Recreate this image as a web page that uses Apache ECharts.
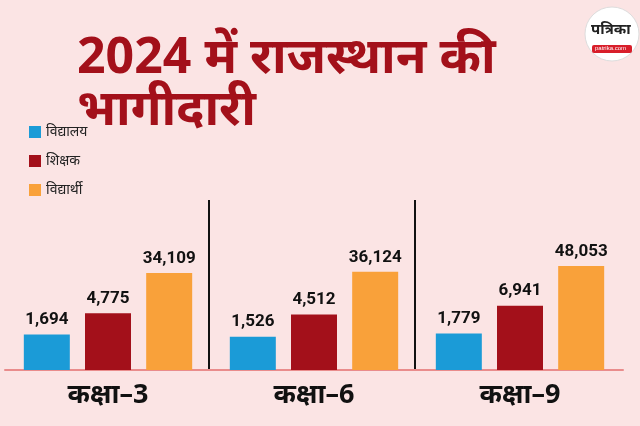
<!DOCTYPE html><html><head><meta charset="utf-8"><script src="https://cdn.jsdelivr.net/npm/echarts@6/dist/echarts.min.js"></script>
<style>body{margin:0}#c{width:640px;height:426px}</style></head><body><div id="c"></div><script>
const categories=['कक्षा–3','कक्षा–6','कक्षा–9'];
const schools=[1694,1526,1779];
const teachers=[4775,4512,6941];
const students=[34109,36124,48053];
const seriesNames=['विद्यालय','शिक्षक','विद्यार्थी'];
const colors=['#1b9bd7','#a3101a','#f9a13a'];
const ch=echarts.init(document.getElementById('c'));
const fnt='"Noto Sans","Noto Sans CJK SC",sans-serif';
function s(i,d){return {name:seriesNames[i],type:'bar',data:d,barWidth:46,barGap:'33%',itemStyle:{color:colors[i]},
 label:{show:true,position:'top',distance:6,color:'#111',fontSize:17,fontWeight:'bold',fontFamily:'Roboto',formatter:p=>p.value.toLocaleString('en-US')}};}
ch.setOption({backgroundColor:'#fbe4e4',animation:false,
title:{text:'2024 में राजस्थान की\nभागीदारी',left:72,top:28,textStyle:{color:'#a3101a',fontSize:50,fontWeight:'bold',fontFamily:fnt,lineHeight:52}},
legend:{orient:'vertical',left:24,top:120,itemWidth:12,itemHeight:12,itemGap:15,icon:'rect',textStyle:{fontSize:14,fontFamily:fnt,color:'#222'}},
grid:{left:5,right:17,top:251,bottom:56},
xAxis:{type:'category',data:categories,axisTick:{show:false},axisLine:{lineStyle:{color:'#e98c8c',width:2}},
 axisLabel:{fontSize:27,fontWeight:'bold',fontFamily:fnt,color:'#111',margin:12}},
yAxis:{type:'log',min:300,max:100000,show:false,splitLine:{show:false}},
series:[s(0,schools),s(1,teachers),s(2,students)],
graphic:[
 {type:'line',shape:{x1:209,y1:200,x2:209,y2:369},style:{stroke:'#111',lineWidth:2}},
 {type:'line',shape:{x1:415,y1:200,x2:415,y2:369},style:{stroke:'#111',lineWidth:2}},
 {type:'circle',shape:{cx:612,cy:34,r:27},style:{fill:'#fff',stroke:'#ddd'}},
 {type:'text',left:591,top:22,style:{text:'पत्रिका',font:'bold 15px "Noto Sans"',fill:'#222'}},
 {type:'rect',shape:{x:592,y:45,width:40,height:8,r:2},style:{fill:'#d81e2a'}},
 {type:'text',left:595,top:45,style:{text:'patrika.com',font:'6px sans-serif',fill:'#fff'}}
]});
</script></body></html>
